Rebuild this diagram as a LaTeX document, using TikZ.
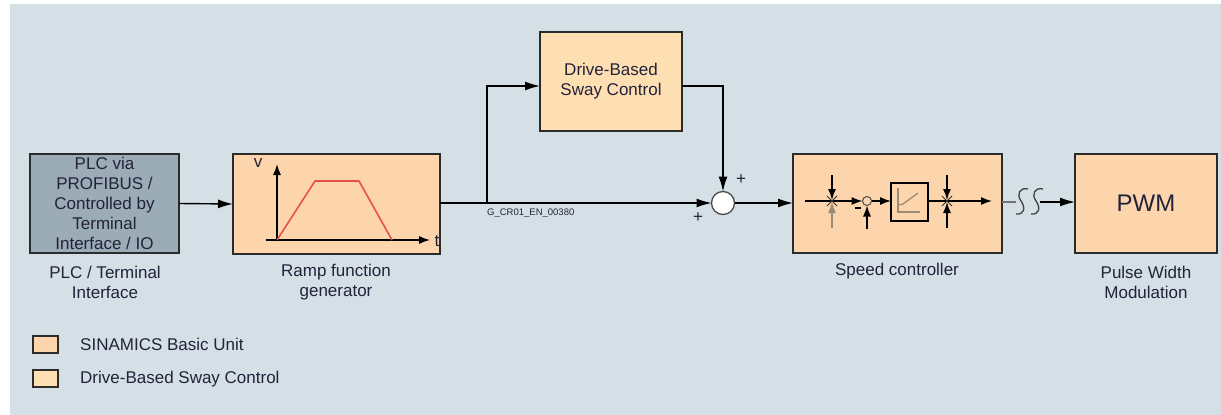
\documentclass[tikz,border=0pt]{standalone}
\usepackage{fontspec}
\setmainfont{Liberation Sans}
\usetikzlibrary{arrows.meta,calc}
\definecolor{bg}{HTML}{D5E0E6}
\definecolor{sina}{HTML}{FCD5AC}
\definecolor{dbsc}{HTML}{FEDFB2}
\definecolor{plcc}{HTML}{9BACB6}
\definecolor{rampc}{HTML}{E8504A}
\definecolor{edge}{HTML}{2B2B2B}
\definecolor{lbl}{HTML}{22223A}
\definecolor{pig}{HTML}{9A8A78}
\begin{document}
\begin{tikzpicture}[x=1pt,y=-1pt,
  txt/.style={font=\fontsize{17}{20}\selectfont, text=lbl, align=center, inner sep=0},
  blk/.style={draw=edge, line width=1.5pt, anchor=north west, inner sep=0, outer sep=0, txt},
  arr/.style={-{Latex[length=15pt,width=9pt]}, line width=1.4pt, draw=black},
  sarr/.style={-{Latex[length=11pt,width=8pt]}, line width=1.3pt},
  leg/.style={draw=edge, line width=1.3pt},
]
\useasboundingbox (0,0) rectangle (1221,415);
\fill[white] (0,0) rectangle (1221,415);
\fill[bg] (10,4) rectangle (1221,415);

% blocks
\node[blk, fill=plcc, minimum width=149pt, minimum height=99pt] (plc) at (30,154)
  {PLC via\\PROFIBUS /\\Controlled by\\Terminal\\Interface / IO};
\node[blk, fill=sina, minimum width=207pt, minimum height=100pt] (ramp) at (233,154) {};
\node[blk, fill=dbsc, minimum width=142pt, minimum height=99pt] (dbsc) at (540,32)
  {Drive-Based\\Sway Control};
\node[blk, fill=sina, minimum width=209pt, minimum height=99pt] (speed) at (793,154) {};
\node[blk, fill=sina, minimum width=142pt, minimum height=99pt, font=\fontsize{24}{28}\selectfont] (pwm) at (1075,154) {PWM};

% labels
\node[txt] (lplc) at (105,282) {PLC / Terminal\\Interface};
\node[txt] (lramp) at (336,282) {Ramp function\\generator};
\node[txt] (lspeed) at (897,271) {Speed controller};
\node[txt] (lpwm) at (1146,282) {Pulse Width\\Modulation};

% ramp graph
\draw[sarr] (277,240) -- (277,164);
\draw[sarr] (266,240) -- (430,240);
\node[txt] (vlab) at (258,163) {v};
\node[txt] (tlab) at (437,241) {t};
\draw[rampc, line width=1.6pt, line join=round] (277,240) -- (315,181) -- (359,181) -- (392,240);

% summing point
\node[circle, draw=black!70, fill=white, line width=1.3pt, minimum size=23pt, inner sep=0, outer sep=0] (sum) at (723,203) {};

% connectors
\draw[arr] (plc.east) -- (ramp.west);
\draw[arr] (ramp.east |- sum.west) -- (sum.west);
\coordinate (br) at (487,203);
\coordinate (lv) at (0,86);
\draw[arr] (br) |- (dbsc.west |- lv);
\draw[arr] (dbsc.east |- lv) -| (sum.north);
\draw[arr] (sum.east) -- (speed.west |- sum.east);
\node[txt, font=\fontsize{17}{18}\selectfont] (p1) at (741,180) {+};
\node[txt, font=\fontsize{17}{18}\selectfont] (p2) at (698,218) {+};
\node[anchor=west, inner sep=0, font=\fontsize{9.5}{11}\selectfont, text=lbl] (code) at (487,213) {G\_CR01\_EN\_00380};

% speed -> pwm with interruption
\coordinate (s1) at (1016,202);
\coordinate (s2) at (1040,202);
\draw[black!55, line width=1.3pt] (speed.east |- s1) -- (s1);
\draw[black!75, line width=1.3pt] (1028,189) .. controls (1020,187) and (1016,194) .. (1021,201) .. controls (1026,208) and (1024,215) .. (1016,214);
\draw[black!75, line width=1.3pt] (1043,189) .. controls (1035,187) and (1031,194) .. (1036,201) .. controls (1041,208) and (1039,215) .. (1031,214);
\draw[arr] (s2) -- (pwm.west |- s2);

% speed controller internals
\coordinate (a0) at (805,201);
\coordinate (st1) at (832,201);
\node[circle, draw=black!70, fill=sina, line width=1pt, minimum size=9pt, inner sep=0, outer sep=0] (sc) at (867,201) {};
\node[draw=black, line width=1.3pt, minimum width=37pt, minimum height=38pt, inner sep=0, outer sep=0] (pi) at (909.5,202) {};
\coordinate (st2) at (947,201);
\coordinate (aend) at (992,201);
\draw[line width=1.2pt] (a0) -- (st1);
\draw[sarr] (st1) -- (sc.west);
\draw[sarr] (832,175) -- (832,200);
\draw[sarr, pig] (832,228) -- (832,202);
\draw[line width=0.9pt, black!80] (827,196) -- (837,206) (827,206) -- (837,196);
\draw[sarr] (867,229) -- (sc.south);
\draw[line width=1.2pt] (855,208) -- (861,208);
\draw[sarr] (sc.east) -- (pi.west |- sc.east);
\draw[pig, line width=1.3pt] (898,188) -- (898,212) -- (920,212);
\draw[pig, line width=1.3pt] (898,205) -- (903,204) -- (918,193);
\draw[line width=1.2pt] (pi.east |- st2) -- (st2);
\draw[sarr] (st2) -- (aend);
\draw[sarr] (947,175) -- (947,200);
\draw[sarr] (947,228) -- (947,202);
\draw[line width=0.9pt, black!80] (942,196) -- (952,206) (942,206) -- (952,196);

% legend
\draw[leg, fill=sina] (33,336) rectangle (58,353);
\node[txt, anchor=west] (l1) at (80,344) {SINAMICS Basic Unit};
\draw[leg, fill=dbsc] (33,370) rectangle (58,387);
\node[txt, anchor=west] (l2) at (80,379) {Drive-Based Sway Control};
\end{tikzpicture}
\end{document}
